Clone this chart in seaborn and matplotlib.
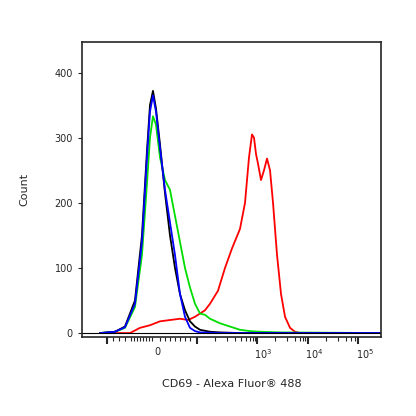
import matplotlib
matplotlib.use("Agg")
import matplotlib.pyplot as plt
import seaborn as sns
import pandas as pd

sns.set_style("ticks")
plt.rcParams['font.family'] = ['DejaVu Sans']

black_x = [100,115,125,135,142,147,150,153,156,160,165,170,175,180,185,190,195,200,210,220,240,300,380]
black_y = [0,2,10,50,150,280,350,372,345,290,215,150,100,60,35,18,10,5,2,1,0,0,0]
blue_x = [100,115,125,135,142,147,150,153,156,160,165,170,175,180,185,190,195,200,220,300,380]
blue_y = [0,2,9,45,140,270,340,365,340,285,220,170,120,60,25,8,3,1,0,0,0]
green_x = [100,115,125,135,142,147,150,153,156,160,165,170,175,180,185,190,195,200,205,210,220,230,240,250,260,280,380]
green_y = [0,2,8,40,120,230,300,333,320,270,235,220,180,140,100,70,45,30,28,22,15,10,5,3,2,1,0]
red_x = [100,130,140,150,160,170,180,188,195,200,205,210,218,225,232,240,245,249,252,254,256,258,261,264,267,270,273,277,281,285,290,295,300,380]
red_y = [0,0,8,12,18,20,22,20,25,30,35,45,65,100,130,160,200,270,305,300,275,260,235,250,268,250,200,120,60,25,8,2,0,0]

fig = plt.figure(figsize=(4.16, 4.16), dpi=100)
ax = fig.add_axes([0.197, 0.19, 0.719, 0.709])
for xs, ys, c in [(red_x, red_y, "#ff0000"), (green_x, green_y, "#00dd00"),
                  (black_x, black_y, "#000000"), (blue_x, blue_y, "#0000ff")]:
    sns.lineplot(x=xs, y=ys, color=c, lw=1.3, ax=ax, sort=False)
ax.plot([82, 381], [0, 0], color="black", lw=0.8)
ax.set_xlim(82, 381)
ax.set_ylim(-6, 447)
ax.set_yticks([0, 100, 200, 300, 400])
ax.set_ylabel("Count", fontsize=8, labelpad=18)
ax.set_xlabel("CD69 - Alexa Fluor\u00ae 488", fontsize=8, labelpad=22)
major = [107, 197, 257, 308, 358]
minor = [113,119,125,131,134,137,140,143,146,149,152,160,165,170,175,180,185,190,
         215,227,235,241,246,250,253,255,275,287,295,300,303,305,326,338,346,351,355]
ax.set_xticks(major)
ax.set_xticklabels([""] * 5)
ax.set_xticks(minor, minor=True)
ax.tick_params(axis="x", which="major", length=5, width=1.5, direction="out")
ax.tick_params(axis="x", which="minor", length=3, width=0.8, direction="out")
ax.tick_params(axis="y", labelsize=7, length=3)
for pos, lab in [(157, "0"), (263, "$10^3$"), (314, "$10^4$"), (365, "$10^5$")]:
    ax.text(pos, -22, lab, ha="center", va="top", fontsize=7, transform=ax.transData)
for s in ax.spines.values():
    s.set_linewidth(1.2)
fig.savefig("out.png", dpi=100)
